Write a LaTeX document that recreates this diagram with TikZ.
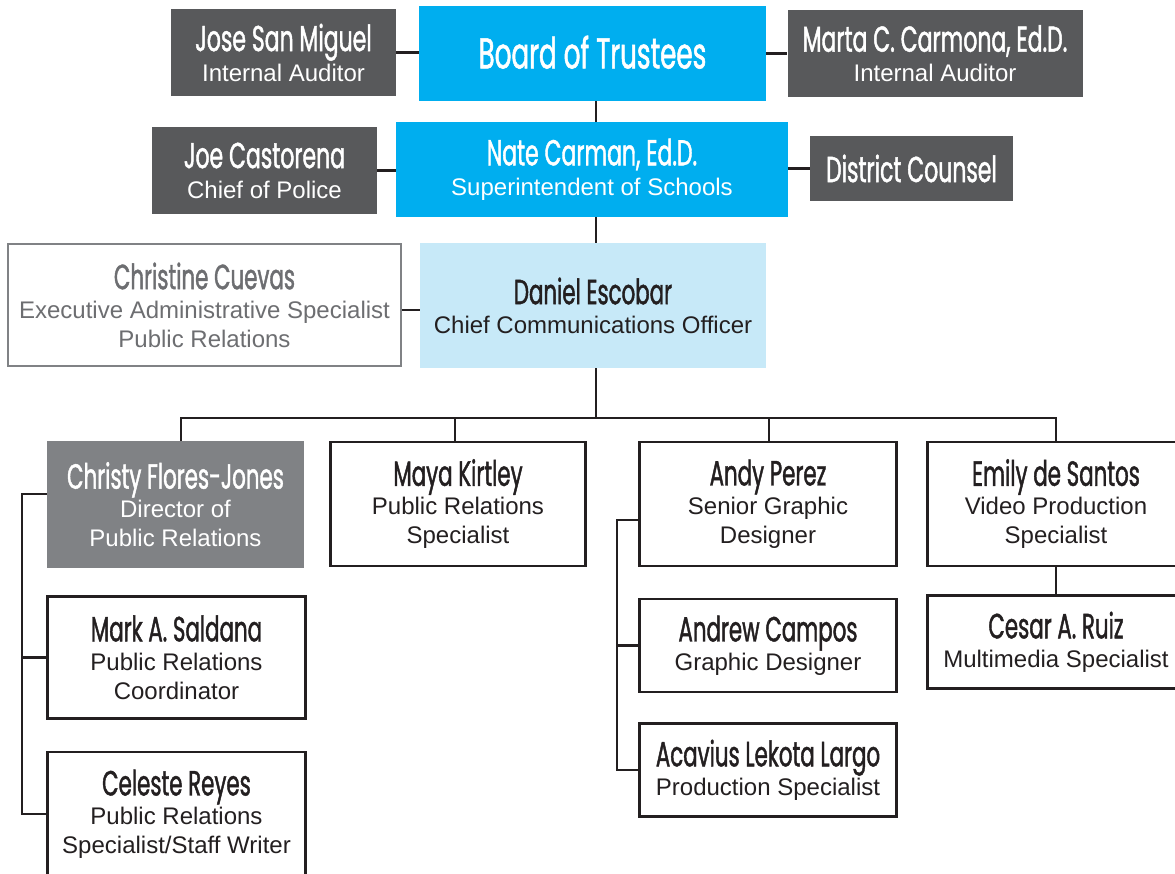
\documentclass[tikz,border=0pt]{standalone}
\usepackage{fontspec}
\setmainfont{Liberation Sans}
\newfontfamily\namefont[FakeStretch=0.61,FakeBold=1.2]{Poppins}
\definecolor{cyanb}{HTML}{00AEEF}
\definecolor{darkg}{HTML}{58595B}
\definecolor{midg}{HTML}{808285}
\definecolor{lightb}{HTML}{C7E9F8}
\definecolor{ink}{HTML}{231F20}
\definecolor{ccgray}{HTML}{6D6E71}
\newcommand\nm[2]{{\namefont\fontsize{#1}{#1}\selectfont #2}}
\tikzset{
  box/.style={rectangle, inner sep=0pt, align=center, font=\fontsize{24}{29}\selectfont},
  darkbox/.style={box, fill=darkg, text=white},
  cyanbox/.style={box, fill=cyanb, text=white},
  wbox/.style={box, draw=ink, line width=2.6pt, fill=white, text=ink},
  conn/.style={draw=ink, line width=2.6pt},
}
\begin{document}
\begin{tikzpicture}[x=1pt,y=-1pt]
\useasboundingbox (0,0) rectangle (1175,873);
\fill[white] (0,0) rectangle (1175,873);
\clip (0,0) rectangle (1175,873);
% top rows
\node[cyanbox, minimum width=347pt, minimum height=95pt] (board) at (592.5,53.5) {\raisebox{3pt}{\nm{43}{Board of Trustees}}};
\node[darkbox, minimum width=225pt, minimum height=87pt] (jose) at (283.5,52.5) {\nm{36}{Jose San Miguel}\\[1pt]Internal Auditor};
\node[darkbox, minimum width=295pt, minimum height=87pt] (marta) at (935,53.5) {\nm{36}{Marta C. Carmona, Ed.D.}\\[1pt]Internal Auditor};
\node[cyanbox, minimum width=392pt, minimum height=95pt] (nate) at (592,169.5) {\nm{36}{Nate Carman, Ed.D.}\\[1pt]Superintendent of Schools};
\node[darkbox, minimum width=225pt, minimum height=87pt] (joe) at (264.5,170.5) {\nm{36}{Joe Castorena}\\[1pt]Chief of Police};
\node[darkbox, minimum width=203pt, minimum height=65pt] (dc) at (911.5,168.5) {\nm{36}{District Counsel}};
\node[box, fill=lightb, text=ink, minimum width=346pt, minimum height=125pt] (daniel) at (593,305.5) {\nm{35}{Daniel Escobar}\\Chief Communications Officer};
\node[box, draw=midg, line width=2.4pt, fill=white, text=ccgray, minimum width=393pt, minimum height=122pt] (christine) at (204.5,305) {\nm{35}{Christine Cuevas}\\Executive Administrative Specialist\\Public Relations};
% third level
\node[box, fill=midg, text=white, minimum width=257pt, minimum height=127pt] (christy) at (175.5,504.5) {\nm{35}{Christy Flores-Jones}\\Director of\\Public Relations};
\node[wbox, minimum width=255pt, minimum height=124pt] (maya) at (458,504) {\nm{35}{Maya Kirtley}\\Public Relations\\Specialist};
\node[wbox, minimum width=257pt, minimum height=124pt] (andy) at (768,504) {\nm{35}{Andy Perez}\\Senior Graphic\\Designer};
\node[wbox, minimum width=257pt, minimum height=124pt] (emily) at (1056,504) {\nm{35}{Emily de Santos}\\Video Production\\Specialist};
\node[wbox, minimum width=258pt, minimum height=122pt] (mark) at (176.5,657.5) {\nm{35}{Mark A. Saldana}\\Public Relations\\Coordinator};
\node[wbox, minimum width=258pt, minimum height=124pt] (celeste) at (176.5,814) {\nm{35}{Celeste Reyes}\\Public Relations\\Specialist/Staff Writer};
\node[wbox, minimum width=257pt, minimum height=93pt] (andrew) at (768,645.5) {\nm{35}{Andrew Campos}\\Graphic Designer};
\node[wbox, minimum width=257pt, minimum height=93pt] (acavius) at (768,770) {\nm{35}{Acavius Lekota Largo}\\Production Specialist};
\node[wbox, minimum width=257pt, minimum height=93pt] (cesar) at (1056,642) {\nm{35}{Cesar A. Ruiz}\\Multimedia Specialist};
% connectors
\coordinate (sp) at (596,0);
\coordinate (busL) at (181,418);
\coordinate (busM) at (455,418);
\coordinate (busA) at (769,418);
\coordinate (busR) at (1056,418);
\coordinate (cj) at (0,310);
\coordinate (lb) at (22,494);
\coordinate (rb) at (617,520);
\draw[conn] (jose.east) -- (jose.east -| board.west);
\draw[conn] (board.east) -- (board.east -| marta.west);
\draw[conn] (joe.east) -- (joe.east -| nate.west);
\draw[conn] (nate.east |- dc.west) -- (dc.west);
\draw[conn] (sp |- board.south) -- (sp |- nate.north);
\draw[conn] (sp |- nate.south) -- (sp |- daniel.north);
\draw[conn] (christine.east |- cj) -- (daniel.west |- cj);
\draw[conn] (sp |- daniel.south) -- (sp |- busL);
\draw[conn] (busL |- christy.north) -- (busL) -- (busR) -- (busR |- emily.north);
\draw[conn] (busM) -- (busM |- maya.north);
\draw[conn] (busA) -- (busA |- andy.north);
\draw[conn] (busR |- emily.south) -- (busR |- cesar.north);
\draw[conn] (christy.west |- lb) -- (lb) -- (lb |- celeste.west) -- (celeste.west);
\draw[conn] (lb |- mark.west) -- (mark.west);
\draw[conn] (andy.west |- rb) -- (rb) -- (rb |- acavius.west) -- (acavius.west);
\draw[conn] (rb |- andrew.west) -- (andrew.west);
\end{tikzpicture}
\end{document}
